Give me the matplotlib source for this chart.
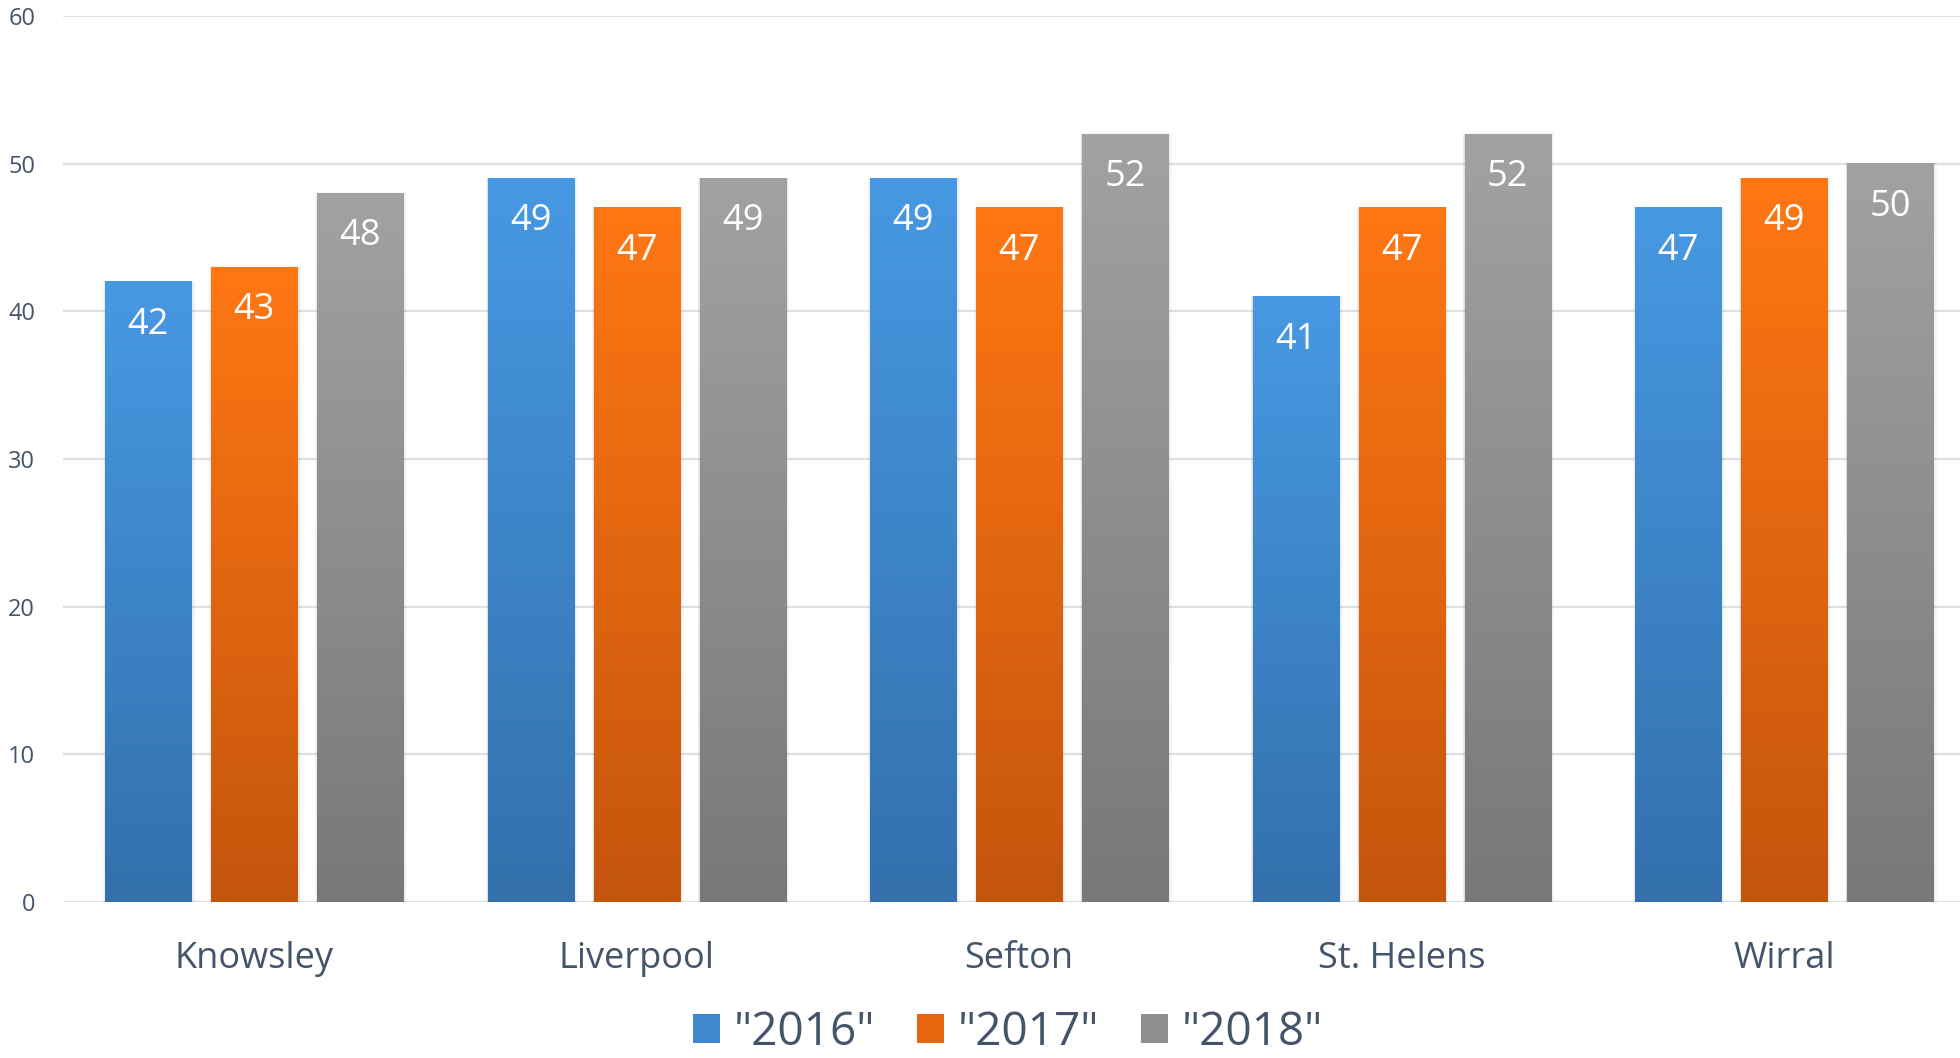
import numpy as np
import matplotlib
matplotlib.use("Agg")
import matplotlib.pyplot as plt
from matplotlib.colors import LinearSegmentedColormap
from matplotlib.patches import Rectangle

categories = ["Knowsley", "Liverpool", "Sefton", "St. Helens", "Wirral"]
series_names = ['"2016"', '"2017"', '"2018"']
v2016 = [42, 49, 49, 41, 47]
v2017 = [43, 47, 47, 47, 49]
v2018 = [48, 49, 52, 52, 50]
y_ticks = [0, 10, 20, 30, 40, 50, 60]

series = [v2016, v2017, v2018]
tops = ["#4799E3", "#FF7713", "#A2A2A2"]
bottoms = ["#3370AC", "#C4550D", "#787878"]
mids = ["#4088CC", "#E8660F", "#8E8E8E"]
text_col = "#44546A"

fig = plt.figure(figsize=(19.6, 10.58), dpi=100)
ax = fig.add_axes([63/1960, 156/1058, 1 - 63/1960, 886/1058])

x = np.arange(len(categories))
bw = 0.225
step = 0.277
for i, vals in enumerate(series):
    bars = ax.bar(x + (i - 1) * step, vals, width=bw, color="none", zorder=3)
    cmap = LinearSegmentedColormap.from_list("g%d" % i, [bottoms[i], tops[i]])
    for b, v in zip(bars, vals):
        x0, w, h = b.get_x(), b.get_width(), b.get_height()
        # soft shadow
        for dx, a in [(0.010, 0.03), (0.006, 0.04), (0.003, 0.05)]:
            ax.add_patch(Rectangle((x0 - dx * 0.5, -0.3), w + dx * 1.5, h + 0.3 + dx * 6,
                                   facecolor="#000000", alpha=a, lw=0, zorder=2))
        grad = np.linspace(0, 1, 256).reshape(-1, 1)
        ax.imshow(grad, cmap=cmap, origin="lower", extent=(x0, x0 + w, 0, h),
                  aspect="auto", zorder=3, interpolation="bicubic")
        ax.annotate(str(v), (x0 + w / 2, h), xytext=(0, -31), textcoords="offset points",
                    ha="center", va="center", color="white", fontsize=26,
                    family=["Open Sans", "DejaVu Sans"], zorder=5)

ax.set_xlim(-0.5, 4.46)
ax.set_ylim(0, 60)
ax.set_yticks(y_ticks)
ax.set_xticks(x)
ax.set_xticklabels(categories, fontsize=26, color=text_col, family=["Open Sans", "DejaVu Sans"])
for t in ax.get_yticklabels():
    t.set_fontsize(17)
    t.set_color(text_col)
    t.set_family(["Open Sans", "DejaVu Sans"])
ax.tick_params(axis="y", length=0, pad=20)
ax.tick_params(axis="x", length=0, pad=28)
ax.grid(axis="y", color="#DCE1E7", lw=1.6, zorder=0)
ax.set_axisbelow(True)
for s in ax.spines.values():
    s.set_visible(False)

handles = [Rectangle((0, 0), 1, 1, facecolor=c, lw=0) for c in mids]
leg = fig.legend(handles, series_names, loc="center", bbox_to_anchor=(1008/1960, 1 - 1033/1058),
                 ncol=3, frameon=False, handlelength=0.6, handleheight=0.6,
                 handletextpad=0.3, columnspacing=0.9, borderpad=0.1,
                 prop={"size": 33, "family": ["Open Sans", "DejaVu Sans"]})
for t in leg.get_texts():
    t.set_color(text_col)

fig.savefig("out.png", dpi=100)
